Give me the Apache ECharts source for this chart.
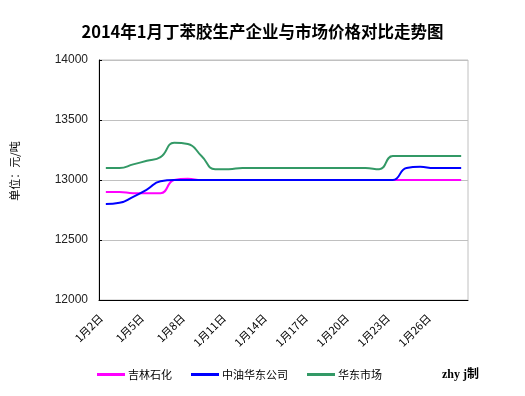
<!DOCTYPE html>
<html>
<head>
<meta charset="utf-8">
<script src="https://cdn.jsdelivr.net/npm/echarts@6/dist/echarts.min.js"></script>
<style>html,body{margin:0;padding:0;background:#fff;}#c{width:525px;height:396px;}</style>
</head>
<body>
<div id="c"></div>
<script>
var categories = ['1月2日','1月3日','1月4日','1月5日','1月6日','1月7日','1月8日','1月9日','1月10日',
  '1月11日','1月12日','1月13日','1月14日','1月15日','1月16日','1月17日','1月18日','1月19日',
  '1月20日','1月21日','1月22日','1月23日','1月24日','1月25日','1月26日','1月27日','1月28日'];
var jilin = [12900,12900,12890,12890,12890,13000,13010,13000,13000,13000,13000,13000,13000,13000,
  13000,13000,13000,13000,13000,13000,13000,13000,13000,13000,13000,13000,13000];
var zhongyou = [12800,12810,12860,12920,12990,13000,13000,13000,13000,13000,13000,13000,13000,13000,
  13000,13000,13000,13000,13000,13000,13000,13000,13100,13110,13100,13100,13100];
var huadong = [13100,13100,13130,13160,13190,13310,13300,13200,13090,13090,13100,13100,13100,13100,
  13100,13100,13100,13100,13100,13100,13090,13200,13200,13200,13200,13200,13200];
var seriesNames = ['吉林石化','中油华东公司','华东市场'];
var yTicks = {min: 12000, max: 14000, interval: 500};

var chart = echarts.init(document.getElementById('c'));
var cjk = '"Noto Sans CJK SC", sans-serif';
chart.setOption({
  animation: false,
  backgroundColor: '#fff',
  title: {
    text: '2014年1月丁苯胶生产企业与市场价格对比走势图',
    left: 'center', top: 18,
    textStyle: {fontSize: 16.5, fontWeight: 'bold', color: '#000', fontFamily: cjk}
  },
  grid: {left: 99, right: 57, top: 60, bottom: 96, show: true, borderColor: '#c0c0c0', borderWidth: 1},
  legend: {
    left: 97, top: 369, padding: 0, itemWidth: 28, itemHeight: 3, itemGap: 19, icon: 'rect',
    textStyle: {fontSize: 11, color: '#000', fontFamily: cjk, padding: [0,0,0,-2]},
    data: seriesNames
  },
  xAxis: {
    type: 'category', data: categories, boundaryGap: true,
    axisLine: {lineStyle: {color: '#000', width: 1}},
    axisTick: {inside: true, length: 3, interval: 2, lineStyle: {color: '#000'}},
    axisLabel: {interval: 2, rotate: 45, fontSize: 11, color: '#000', fontFamily: cjk, margin: 11,
                padding: [0, 7, 0, 0]}
  },
  yAxis: {
    type: 'value', min: yTicks.min, max: yTicks.max, interval: yTicks.interval,
    axisLine: {show: true, lineStyle: {color: '#000', width: 1}},
    axisTick: {show: true, inside: true, length: 3, lineStyle: {color: '#000'}},
    axisLabel: {fontSize: 12, color: '#222', fontFamily: 'Liberation Sans, Arial, sans-serif', margin: 11,
                formatter: function (v) { return String(v); }},
    splitLine: {show: true, lineStyle: {color: '#c0c0c0', width: 1}}
  },
  series: [
    {name: seriesNames[0], type: 'line', data: jilin, smooth: 0.5, symbol: 'none',
     lineStyle: {color: '#ff00ff', width: 2}, itemStyle: {color: '#ff00ff'}},
    {name: seriesNames[1], type: 'line', data: zhongyou, smooth: 0.5, symbol: 'none',
     lineStyle: {color: '#0000ff', width: 2}, itemStyle: {color: '#0000ff'}},
    {name: seriesNames[2], type: 'line', data: huadong, smooth: 0.5, symbol: 'none',
     lineStyle: {color: '#339966', width: 2}, itemStyle: {color: '#339966'}}
  ],
  graphic: [
    {type: 'text', x: 15, y: 171, rotation: Math.PI / 2,
     style: {text: '单位：元/吨', fill: '#000', font: '11px "Noto Sans CJK SC"',
             textAlign: 'center', textVerticalAlign: 'middle'}},
    {type: 'text', x: 442, y: 375,
     style: {text: 'zhy j制', fill: '#000', font: 'bold 12px "Liberation Serif", "Noto Sans CJK SC"',
             textAlign: 'left', textVerticalAlign: 'middle'}}
  ]
});
</script>
</body>
</html>
